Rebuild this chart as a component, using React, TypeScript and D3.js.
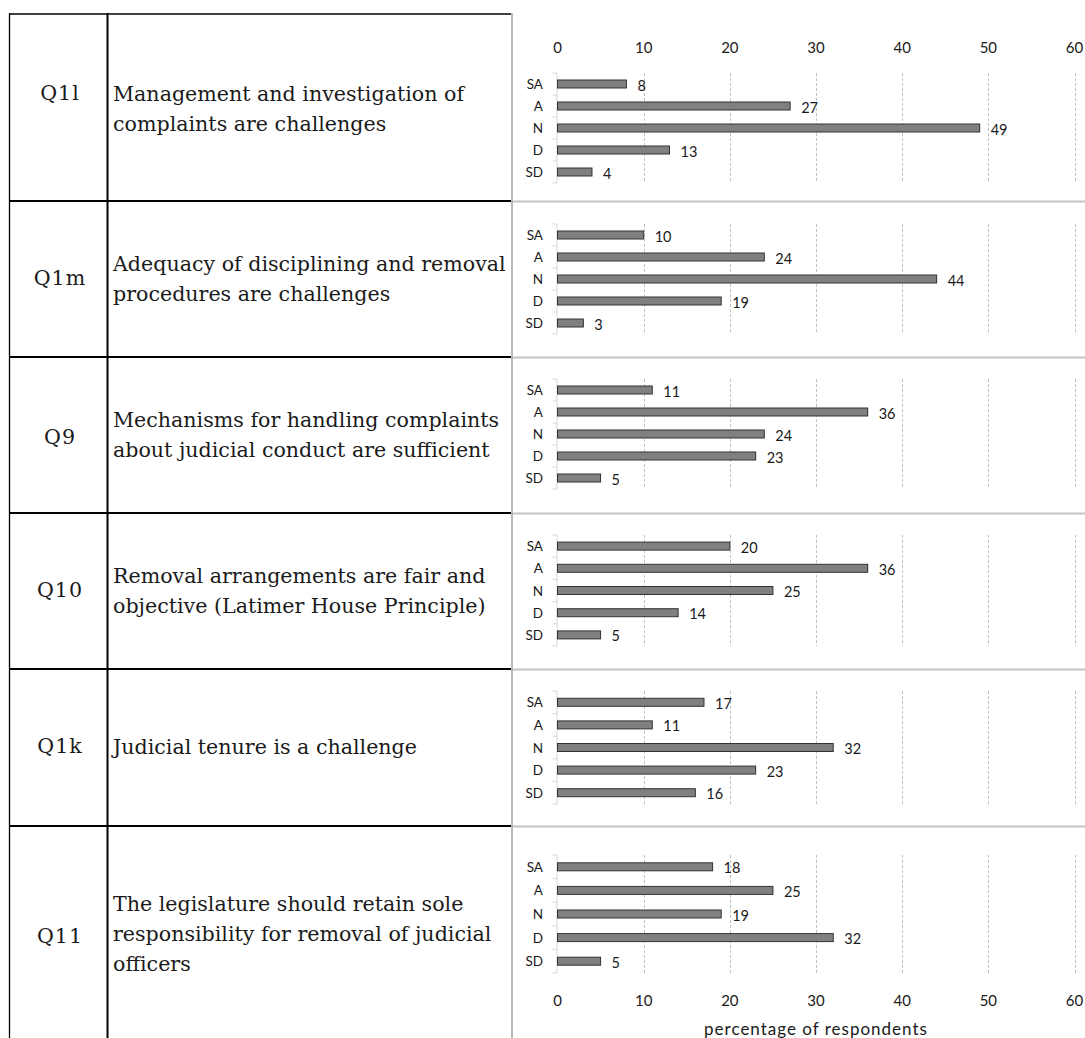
import React from "react";
import * as d3 from "d3";

const categories = ["SA", "A", "N", "D", "SD"];
const questionIds = ["Q1l", "Q1m", "Q9", "Q10", "Q1k", "Q11"];
const questionTexts = [
  ["Management and investigation of", "complaints are challenges"],
  ["Adequacy of disciplining and removal", "procedures are challenges"],
  ["Mechanisms for handling complaints", "about judicial conduct are sufficient"],
  ["Removal arrangements are fair and", "objective (Latimer House Principle)"],
  ["Judicial tenure is a challenge"],
  ["The legislature should retain sole", "responsibility for removal of judicial", "officers"],
];
const q1lValues = [8, 27, 49, 13, 4];
const q1mValues = [10, 24, 44, 19, 3];
const q9Values = [11, 36, 24, 23, 5];
const q10Values = [20, 36, 25, 14, 5];
const q1kValues = [17, 11, 32, 23, 16];
const q11Values = [18, 25, 19, 32, 5];
const seriesValues = [q1lValues, q1mValues, q9Values, q10Values, q1kValues, q11Values];
const xTicks = [0, 10, 20, 30, 40, 50, 60];
const axisTitle = "percentage of respondents";

// layout
const W = 1085;
const H = 1038;
const rowTops = [14, 201, 357, 513, 669, 826];
const labelCenters = [93, 278, 437, 590, 746, 936];
const textFirstCenters = [94, 264, 420, 576, 747, 904];
const plotRanges: [number, number][] = [
  [73, 183],
  [224, 334],
  [379, 489],
  [535, 646],
  [691, 804],
  [855, 973],
];
const serif = "'DejaVu Serif', serif";
const sans = "Lato, 'Open Sans', sans-serif";

export default function App() {
  const x = d3.scaleLinear().domain([0, 60]).range([557.5, 1074.5]);

  return (
    <div style={{ position: "absolute", left: 0, top: 0 }}>
      <svg width={W} height={H} style={{ display: "block", background: "#fff" }}>
        <rect x={0} y={0} width={W} height={H} fill="#ffffff" />
        {/* chart panel separators */}
        {rowTops.slice(1).map((t, i) => (
          <line key={"sep" + i} x1={512} x2={W} y1={t + 0.5} y2={t + 0.5} stroke="#c4c4c4" strokeWidth={2} />
        ))}
        {/* table lines */}
        <line x1={9.5} x2={9.5} y1={13} y2={H} stroke="#000" strokeWidth={1.3} />
        <line x1={107.5} x2={107.5} y1={13} y2={H} stroke="#000" strokeWidth={2} />
        <line x1={512} x2={512} y1={13} y2={H} stroke="#a8a8a8" strokeWidth={1.6} />
        {rowTops.map((t, i) => (
          <line key={"row" + i} x1={9} x2={511} y1={t} y2={t} stroke="#000" strokeWidth={i === 0 ? 1.3 : 2} />
        ))}
        {/* question ids and texts */}
        {questionIds.map((q, i) => (
          <text
            key={"q" + i}
            x={60}
            y={labelCenters[i] + 7}
            textAnchor="middle"
            fontFamily={serif}
            fontSize={20.6}
            letterSpacing={1}
            fill="#1a1a1a"
          >
            {q}
          </text>
        ))}
        {questionTexts.map((lines, i) =>
          lines.map((ln, j) => (
            <text
              key={"t" + i + "_" + j}
              x={113}
              y={textFirstCenters[i] + 7 + j * 30}
              fontFamily={serif}
              fontSize={20.6}
              fill="#1a1a1a"
            >
              {ln}
            </text>
          ))
        )}
        {/* charts */}
        {seriesValues.map((vals, ci) => {
          const [top, bottom] = plotRanges[ci];
          const y = d3.scaleBand<string>().domain(categories).range([top, bottom]).paddingInner(0).paddingOuter(0);
          const bw = y.bandwidth();
          const barH = 8;
          const x0 = x(0);
          return (
            <g key={"chart" + ci}>
              {xTicks.slice(1).map((t) => (
                <line
                  key={"g" + t}
                  x1={Math.round(x(t)) + 0.5}
                  x2={Math.round(x(t)) + 0.5}
                  y1={top}
                  y2={bottom}
                  stroke="#c2c2c2"
                  strokeWidth={1}
                  strokeDasharray="3,2"
                />
              ))}
              <line x1={x0 - 0.5} x2={x0 - 0.5} y1={top} y2={bottom} stroke="#d6d6d6" strokeWidth={1} />
              {d3.range(categories.length + 1).map((k) => (
                <line
                  key={"tk" + k}
                  x1={x0 - 5}
                  x2={x0 - 0.5}
                  y1={top + k * bw}
                  y2={top + k * bw}
                  stroke="#d6d6d6"
                  strokeWidth={1}
                />
              ))}
              {categories.map((c, k) => {
                const cy = (y(c) as number) + bw / 2;
                return (
                  <g key={"b" + k}>
                    <text
                      x={543}
                      y={cy}
                      textAnchor="end"
                      dominantBaseline="central"
                      fontFamily={sans}
                      fontSize={13.5}
                      fill="#1a1a1a"
                    >
                      {c}
                    </text>
                    <rect
                      x={x0}
                      y={cy - barH / 2}
                      width={x(vals[k]) - x0}
                      height={barH}
                      fill="#808080"
                      stroke="#333333"
                      strokeWidth={1}
                    />
                    <text
                      x={x(vals[k]) + 11}
                      y={cy + 1}
                      dominantBaseline="central"
                      fontFamily={sans}
                      fontSize={14.5}
                      fill="#1a1a1a"
                    >
                      {vals[k]}
                    </text>
                  </g>
                );
              })}
            </g>
          );
        })}
        {/* top axis labels */}
        {xTicks.map((t) => (
          <text
            key={"tt" + t}
            x={x(t)}
            y={47}
            textAnchor="middle"
            dominantBaseline="central"
            fontFamily={sans}
            fontSize={15}
            fill="#1a1a1a"
          >
            {t}
          </text>
        ))}
        {/* bottom axis labels */}
        {xTicks.map((t) => (
          <text
            key={"bt" + t}
            x={x(t)}
            y={1000}
            textAnchor="middle"
            dominantBaseline="central"
            fontFamily={sans}
            fontSize={15}
            fill="#1a1a1a"
          >
            {t}
          </text>
        ))}
        <text
          x={816}
          y={1028}
          textAnchor="middle"
          dominantBaseline="central"
          fontFamily={sans}
          fontSize={17}
          letterSpacing={1}
          fill="#1a1a1a"
        >
          {axisTitle}
        </text>
      </svg>
    </div>
  );
}
